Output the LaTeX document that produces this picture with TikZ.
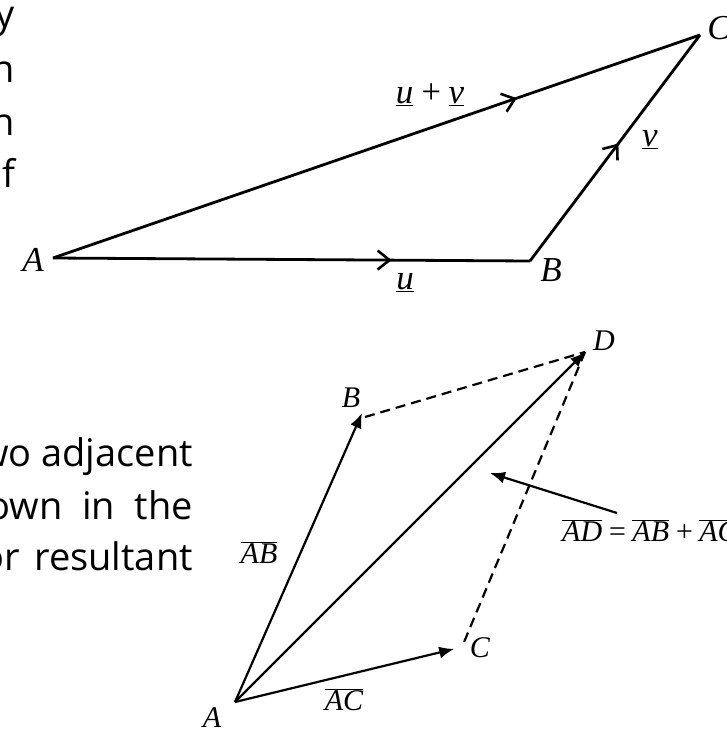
\documentclass[tikz,border=0pt]{standalone}
\usepackage{fontspec}
\setmainfont{Liberation Serif}
\newfontfamily\textsans{Open Sans}
\usetikzlibrary{arrows.meta,decorations.markings}
\begin{document}
\begin{tikzpicture}[x=1pt,y=-1pt,
  topline/.style={line width=2.8pt},
  botline/.style={line width=2.2pt},
  midarrow/.style={postaction={decorate},decoration={markings,mark=at position #1 with {\arrow{Straight Barb[length=12pt,width=19pt,line width=2.6pt]}}}},
  dashline/.style={line width=2.2pt,dash pattern=on 10pt off 6pt},
  tiparrow/.style={-{Latex[length=15pt,width=12pt]}},
  toplabel/.style={font=\fontsize{35}{38}\selectfont\itshape, inner sep=0pt},
  botlabel/.style={font=\fontsize{30}{32}\selectfont\itshape, inner sep=0pt},
  bodytext/.style={font=\textsans\fontsize{38}{44}\selectfont, inner sep=0pt, anchor=base east}]
\useasboundingbox (0,0) rectangle (727,729);
\clip (0,0) rectangle (727,729);
% left text fragments
\node[bodytext] (t1) at (15,27) {y};
\node[bodytext] (t2) at (15,82) {h};
\node[bodytext] (t3) at (15,135) {h};
\node[bodytext] (t4) at (16,187) {of};
\node[bodytext] (t5) at (193,466) {wo adjacent};
\node[bodytext] (t6) at (193,519) {own\ \ in\ \ the};
\node[bodytext] (t7) at (193,570) {or\hspace{14pt}resultant};
% top figure
\coordinate (tA) at (53,258);
\coordinate (tB) at (530,261);
\coordinate (tC) at (700,35);
\draw[topline,midarrow=0.71] (tA) -- (tB);
\draw[topline,midarrow=0.52] (tB) -- (tC);
\draw[topline,midarrow=0.717] (tA) -- (tC);
\node[toplabel] (lA) at (33,260) {A};
\node[toplabel] (lB) at (551,270) {B};
\node[toplabel] (lC) at (719,28) {C};
\node[toplabel] (luv) at (430,95) {\underline{u}\,+\,\underline{v}};
\node[toplabel] (lv) at (650,140) {\underline{v}};
\node[toplabel] (lu) at (405,283) {\underline{u}};
% bottom figure
\coordinate (bA) at (235,702);
\coordinate (bB) at (362,413);
\coordinate (bD) at (585,352);
\coordinate (bC) at (462,647);
\draw[botline,tiparrow] (bA) -- (bB);
\draw[botline,tiparrow] (bA) -- (bD);
\draw[botline,tiparrow,shorten >=8pt] (bA) -- (bC);
\draw[dashline] ([xshift=3pt,yshift=-4pt]bB) -- (bD);
\draw[dashline] (bD) -- (bC);
\coordinate (pS) at (617,513);
\coordinate (pE) at (490,473);
\draw[botline,tiparrow] (pS) -- (pE);
\node[botlabel] (mA) at (212,718) {A};
\node[botlabel] (mB) at (351,398) {B};
\node[botlabel] (mC) at (480,648) {C};
\node[botlabel] (mD) at (604,341) {D};
\node[botlabel] (mAB) at (259,553) {$\overline{\mbox{\itshape AB}}$};
\node[botlabel] (mAC) at (344,700) {$\overline{\mbox{\itshape AC}}$};
\node[botlabel,anchor=base west] (mEq) at (562,541) {$\overline{\mbox{\itshape AD}}$\kern5pt=\kern5pt$\overline{\mbox{\itshape AB}}$\kern5pt+\kern5pt$\overline{\mbox{\itshape AC}}$};
\end{tikzpicture}
\end{document}
